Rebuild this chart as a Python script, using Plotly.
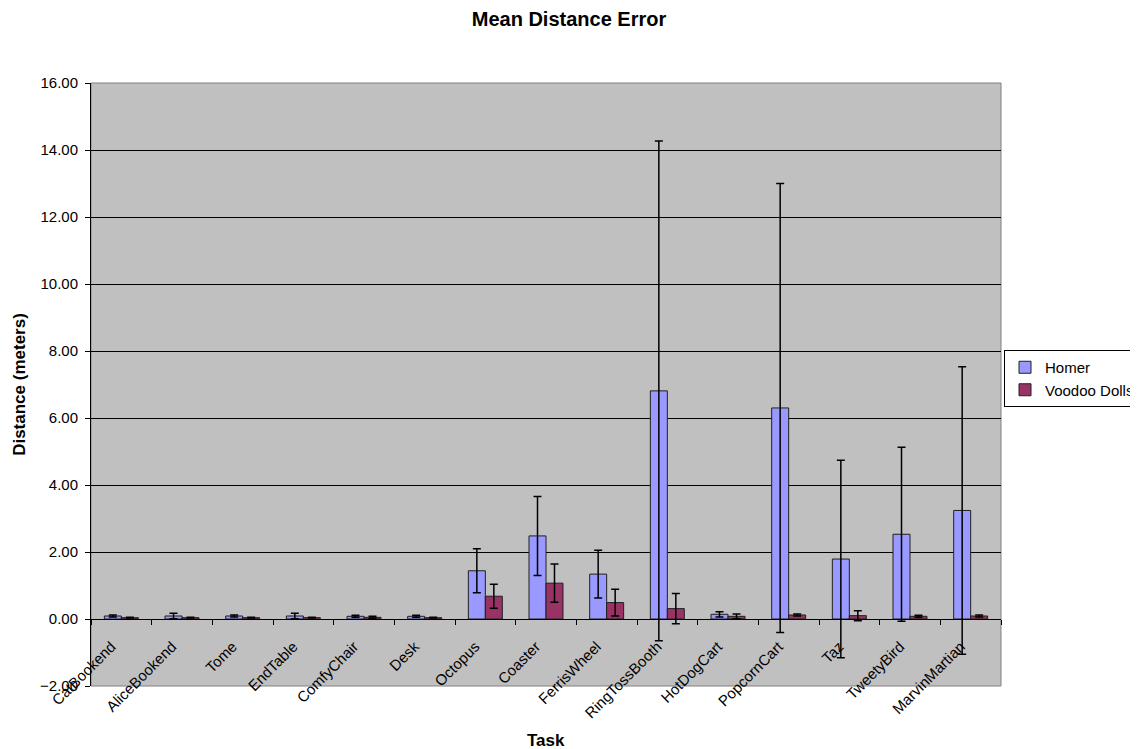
import plotly.graph_objects as go

tasks = ["CatBookend", "AliceBookend", "Tome", "EndTable", "ComfyChair", "Desk",
         "Octopus", "Coaster", "FerrisWheel", "RingTossBooth", "HotDogCart",
         "PopcornCart", "Taz", "TweetyBird", "MarvinMartian"]
homer = [0.09, 0.09, 0.09, 0.09, 0.08, 0.08, 1.44, 2.48, 1.34, 6.81, 0.14, 6.30, 1.79, 2.53, 3.24]
homer_err = [0.03, 0.08, 0.03, 0.08, 0.03, 0.03, 0.66, 1.18, 0.71, 7.46, 0.08, 6.70, 2.95, 2.60, 4.29]
voodoo = [0.04, 0.04, 0.04, 0.04, 0.05, 0.04, 0.68, 1.07, 0.49, 0.31, 0.08, 0.12, 0.10, 0.08, 0.09]
voodoo_err = [0.01, 0.01, 0.01, 0.01, 0.03, 0.01, 0.36, 0.57, 0.40, 0.45, 0.07, 0.03, 0.15, 0.03, 0.03]

FONT = "Liberation Sans, Arial, sans-serif"
OFF = 8  # page body margin
W, H = 1138 - OFF, 749 - OFF
L, T = 91 - OFF, 83 - OFF
PW, PH = 910, 603
R = W - L - PW
B = H - T - PH
ymin, ymax = -2, 16

fig = go.Figure()
fig.add_trace(go.Bar(
    name="Homer", x=tasks, y=homer,
    marker=dict(color="#9999FF", line=dict(color="#202020", width=1)),
    error_y=dict(type="data", array=homer_err, visible=True, color="black",
                 thickness=1.5, width=4),
))
fig.add_trace(go.Bar(
    name="Voodoo Dolls", x=tasks, y=voodoo,
    marker=dict(color="#993366", line=dict(color="#202020", width=1)),
    error_y=dict(type="data", array=voodoo_err, visible=True, color="black",
                 thickness=1.5, width=4),
))

zero_pos = (0 - ymin) / (ymax - ymin)

fig.update_layout(
    width=W, height=H,
    margin=dict(l=L, r=R, t=T, b=B, autoexpand=False),
    paper_bgcolor="white",
    plot_bgcolor="#C0C0C0",
    font=dict(family=FONT, size=15, color="black"),
    barmode="group", bargap=0.44, bargroupgap=0.0,
    title=dict(text="<b>Mean Distance Error</b>", x=(569 - OFF) / W, xref="container",
               xanchor="center", y=1 - (19 - OFF) / H, yanchor="middle",
               font=dict(family=FONT, size=20, color="black")),
    xaxis=dict(
        type="category", anchor="free", position=zero_pos,
        showline=True, linecolor="black", linewidth=1,
        ticks="outside", ticklen=5, tickcolor="black", tickson="boundaries",
        tickangle=-45, showgrid=False,
        ticklabelstandoff=12, ticklabelshift=-10,
        tickfont=dict(family=FONT, size=15, color="black"),
    ),
    yaxis=dict(
        range=[ymin, ymax], dtick=2, tick0=0, tickformat=".2f",
        showline=True, linecolor="black", linewidth=1,
        ticks="outside", ticklen=5, tickcolor="black",
        showgrid=True, gridcolor="black", gridwidth=1, zeroline=False,
        ticklabelstandoff=4,
        tickfont=dict(family=FONT, size=15, color="black"),
        title=dict(text="<b>Distance (meters)</b>", standoff=10,
                   font=dict(family=FONT, size=17, color="black")),
    ),
    legend=dict(
        x=(1004 - 91) / PW, xanchor="left",
        y=(686 - 350) / PH, yanchor="top",
        bgcolor="white", bordercolor="black", borderwidth=1,
        font=dict(family=FONT, size=15, color="black"),
        itemwidth=30, tracegroupgap=0,
    ),
    shapes=[dict(type="rect", xref="paper", yref="paper", x0=0, x1=1, y0=0, y1=1,
                 line=dict(color="#808080", width=1), layer="below")],
    annotations=[dict(text="<b>Task</b>", xref="paper", yref="paper",
                      x=0.5, y=(686 - 740) / PH, xanchor="center",
                      yanchor="middle", showarrow=False,
                      font=dict(family=FONT, size=17, color="black"))],
)

fig.write_html("out.html")
